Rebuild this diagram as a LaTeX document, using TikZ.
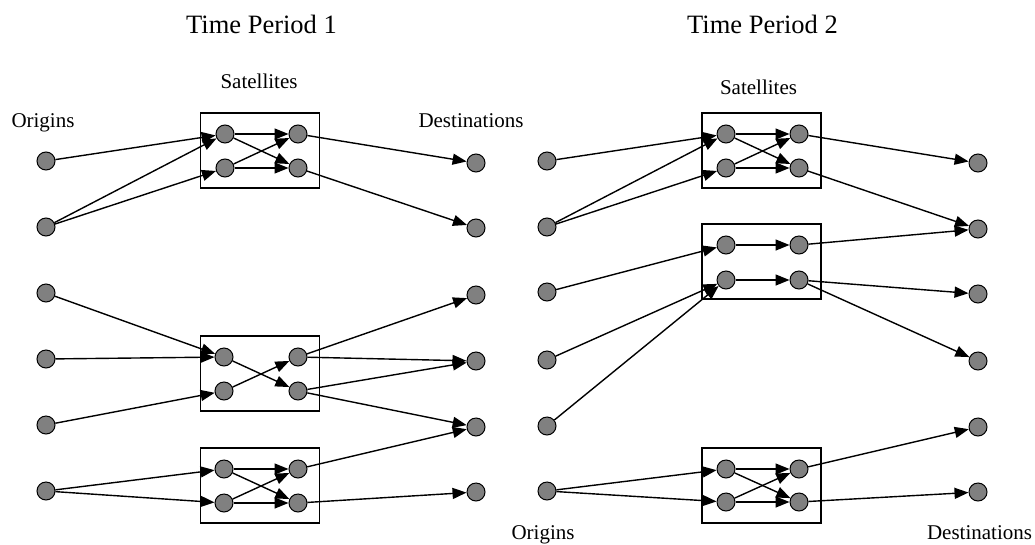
\documentclass[tikz,border=0pt]{standalone}
\usepackage{fontspec}
\setmainfont{Liberation Serif}
\usetikzlibrary{arrows.meta}
\begin{document}
\begin{tikzpicture}[x=1pt,y=-1pt,
 pt/.style={circle,draw=black,fill=gray,line width=1pt,minimum size=18pt,inner sep=0pt},
 sbox/.style={draw=black,line width=1.1pt,minimum width=119pt,minimum height=75pt,inner sep=0pt},
 arr/.style={-{Triangle[length=14pt,width=11pt]},line width=1.4pt},
 lbl/.style={anchor=base,font=\fontsize{21}{24}\selectfont,inner sep=0pt},
 ttl/.style={anchor=base,font=\fontsize{26.5}{30}\selectfont,inner sep=0pt}]
\useasboundingbox (0,0) rectangle (1035,544);

% labels
\node[ttl] (t1) at (261.5,33) {Time Period 1};
\node[ttl] (t2) at (762.5,33) {Time Period 2};
\node[lbl] (sl) at (259,88) {Satellites};
\node[lbl] (sr) at (758.5,94) {Satellites};
\node[lbl] (ol) at (43,127) {Origins};
\node[lbl] (dl) at (471,127) {Destinations};
\node[lbl] (or) at (543,539) {Origins};
\node[lbl] (dr) at (979.5,539) {Destinations};

% boxes
\node[sbox] (lb1) at (260,150.5) {};
\node[sbox] (lb2) at (260,373.5) {};
\node[sbox] (lb3) at (260,485.5) {};
\node[sbox] (rb1) at (761.5,150.5) {};
\node[sbox] (rb2) at (761.5,261.5) {};
\node[sbox] (rb3) at (761.5,485.5) {};

% origins and destinations
\foreach \i/\y in {1/161,2/227,3/293,4/359,5/425,6/491} \node[pt] (lo\i) at (46,\y) {};
\foreach \i/\y in {1/163,2/228,3/295,4/361,5/427,6/492} \node[pt] (ld\i) at (476,\y) {};
\foreach \i/\y in {1/161,2/227,3/292,4/360,5/426,6/491} \node[pt] (ro\i) at (547,\y) {};
\foreach \i/\y in {1/163,2/229,3/294,4/361,5/427,6/492} \node[pt] (rd\i) at (978,\y) {};

% satellites (a = upper-left, b = upper-right, c = lower-left, d = lower-right)
\node[pt] (l1a) at (225,134) {}; \node[pt] (l1b) at (298,134) {};
\node[pt] (l1c) at (225,168) {}; \node[pt] (l1d) at (298,168) {};
\node[pt] (l2a) at (224,357) {}; \node[pt] (l2b) at (298,357) {};
\node[pt] (l2c) at (224,391) {}; \node[pt] (l2d) at (298,391) {};
\node[pt] (l3a) at (224,469) {}; \node[pt] (l3b) at (298,469) {};
\node[pt] (l3c) at (224,503) {}; \node[pt] (l3d) at (298,503) {};
\node[pt] (r1a) at (726,134) {}; \node[pt] (r1b) at (799,134) {};
\node[pt] (r1c) at (726,168) {}; \node[pt] (r1d) at (799,168) {};
\node[pt] (r2a) at (726,245) {}; \node[pt] (r2b) at (799,245) {};
\node[pt] (r2c) at (726,280) {}; \node[pt] (r2d) at (799,280) {};
\node[pt] (r3a) at (726,469) {}; \node[pt] (r3b) at (799,469) {};
\node[pt] (r3c) at (726,502) {}; \node[pt] (r3d) at (799,502) {};

% left panel edges
\draw[arr] (lo1) -- (l1a);
\draw[arr] (lo2) -- (l1a);
\draw[arr] (lo2) -- (l1c);
\draw[arr] (l1a) -- (l1b);
\draw[arr] (l1a) -- (l1d);
\draw[arr] (l1c) -- (l1b);
\draw[arr] (l1c) -- (l1d);
\draw[arr] (l1b) -- (ld1);
\draw[arr] (l1d) -- (ld2);

\draw[arr] (lo3) -- (l2a);
\draw[arr] (lo4) -- (l2a);
\draw[arr] (lo5) -- (l2c);
\draw[arr] (l2a) -- (l2d);
\draw[arr] (l2c) -- (l2b);
\draw[arr] (l2b) -- (ld3);
\draw[arr] (l2b) -- (ld4);
\draw[arr] (l2d) -- (ld4);
\draw[arr] (l2d) -- (ld5);

\draw[arr] (lo6) -- (l3a);
\draw[arr] (lo6) -- (l3c);
\draw[arr] (l3a) -- (l3b);
\draw[arr] (l3a) -- (l3d);
\draw[arr] (l3c) -- (l3b);
\draw[arr] (l3c) -- (l3d);
\draw[arr] (l3b) -- (ld5);
\draw[arr] (l3d) -- (ld6);

% right panel edges
\draw[arr] (ro1) -- (r1a);
\draw[arr] (ro2) -- (r1a);
\draw[arr] (ro2) -- (r1c);
\draw[arr] (r1a) -- (r1b);
\draw[arr] (r1a) -- (r1d);
\draw[arr] (r1c) -- (r1b);
\draw[arr] (r1c) -- (r1d);
\draw[arr] (r1b) -- (rd1);
\draw[arr] (r1d) -- (rd2);

\draw[arr] (ro3) -- (r2a);
\draw[arr] (ro4) -- (r2c);
\draw[arr] (ro5) -- (r2c);
\draw[arr] (r2a) -- (r2b);
\draw[arr] (r2c) -- (r2d);
\draw[arr] (r2b) -- (rd2);
\draw[arr] (r2d) -- (rd3);
\draw[arr] (r2d) -- (rd4);

\draw[arr] (ro6) -- (r3a);
\draw[arr] (ro6) -- (r3c);
\draw[arr] (r3a) -- (r3b);
\draw[arr] (r3a) -- (r3d);
\draw[arr] (r3c) -- (r3b);
\draw[arr] (r3c) -- (r3d);
\draw[arr] (r3b) -- (rd5);
\draw[arr] (r3d) -- (rd6);
\end{tikzpicture}
\end{document}
